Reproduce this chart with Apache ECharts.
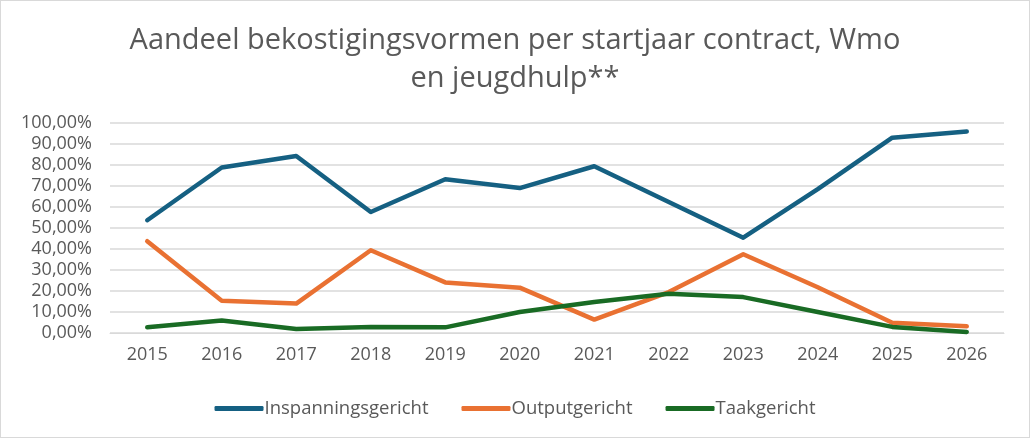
<!DOCTYPE html>
<html>
<head>
<meta charset="utf-8">
<script src="https://cdn.jsdelivr.net/npm/echarts@6/dist/echarts.min.js"></script>
<style>
	html,body{margin:0;padding:0;background:#fff}
	#chart{width:1028px;height:436px;border:1px solid #d9d9d9}
</style>
</head>
<body>
<div id="chart"></div>
<script>
// startjaren contract
const years=["2015","2016","2017","2018","2019","2020","2021","2022","2023","2024","2025","2026"]
// aandelen in procenten
const inspanning=[53.7,78.8,84.3,57.6,73.2,69.0,79.4,62.4,45.4,68.5,93.0,96.0]
const output=[43.7,15.4,14.0,39.4,24.1,21.6,6.4,19.5,37.5,21.8,4.9,3.2]
const taak=[2.7,6.0,1.9,2.9,2.7,10.0,14.8,18.7,17.1,10.0,2.9,0.5]

const fontFam='"Open Sans", "Noto Sans", sans-serif'
const grey='#595959'

const chart=echarts.init(document.getElementById('chart'))
const mkSeries=(name,data,color)=>({
	name:name,
	type:'line',
	data:data,
	symbol:'none',
	smooth:false,
	lineStyle:{width:4.5,color:color,cap:'round',join:'round'},
	itemStyle:{color:color}
})
chart.setOption({
	animation:false,
	textStyle:{fontFamily:fontFam},
	title:{
		text:'Aandeel bekostigingsvormen per startjaar contract, Wmo\nen jeugdhulp**',
		left:'center',
		top:16,
		textStyle:{fontFamily:fontFam,fontSize:29,fontWeight:'normal',color:grey,lineHeight:38}
	},
	grid:{left:109,right:25,top:122,bottom:104},
	xAxis:{
		type:'category',
		data:years,
		boundaryGap:true,
		axisLine:{lineStyle:{color:'#d9d9d9',width:1}},
		axisTick:{show:false},
		axisLabel:{color:grey,fontSize:18,margin:13,fontFamily:fontFam}
	},
	yAxis:{
		type:'value',
		min:0,
		max:100,
		interval:10,
		axisLine:{show:false},
		axisTick:{show:false},
		splitLine:{lineStyle:{color:'#d9d9d9',width:1.5}},
		axisLabel:{
			color:grey,fontSize:18,margin:18,fontFamily:fontFam,
			formatter:v=>v.toFixed(2).replace('.',',')+'%'
		}
	},
	legend:{
		bottom:14,
		left:'center',
		itemWidth:49,
		itemHeight:5,
		itemGap:33,
		icon:'roundRect',
		textStyle:{color:grey,fontSize:18.5,fontFamily:fontFam,padding:[0,0,0,-4]},
		data:['Inspanningsgericht','Outputgericht','Taakgericht']
	},
	series:[
		mkSeries('Inspanningsgericht',inspanning,'#156082'),
		mkSeries('Outputgericht',output,'#e97132'),
		mkSeries('Taakgericht',taak,'#196b24')
	]
})
</script>
</body>
</html>
